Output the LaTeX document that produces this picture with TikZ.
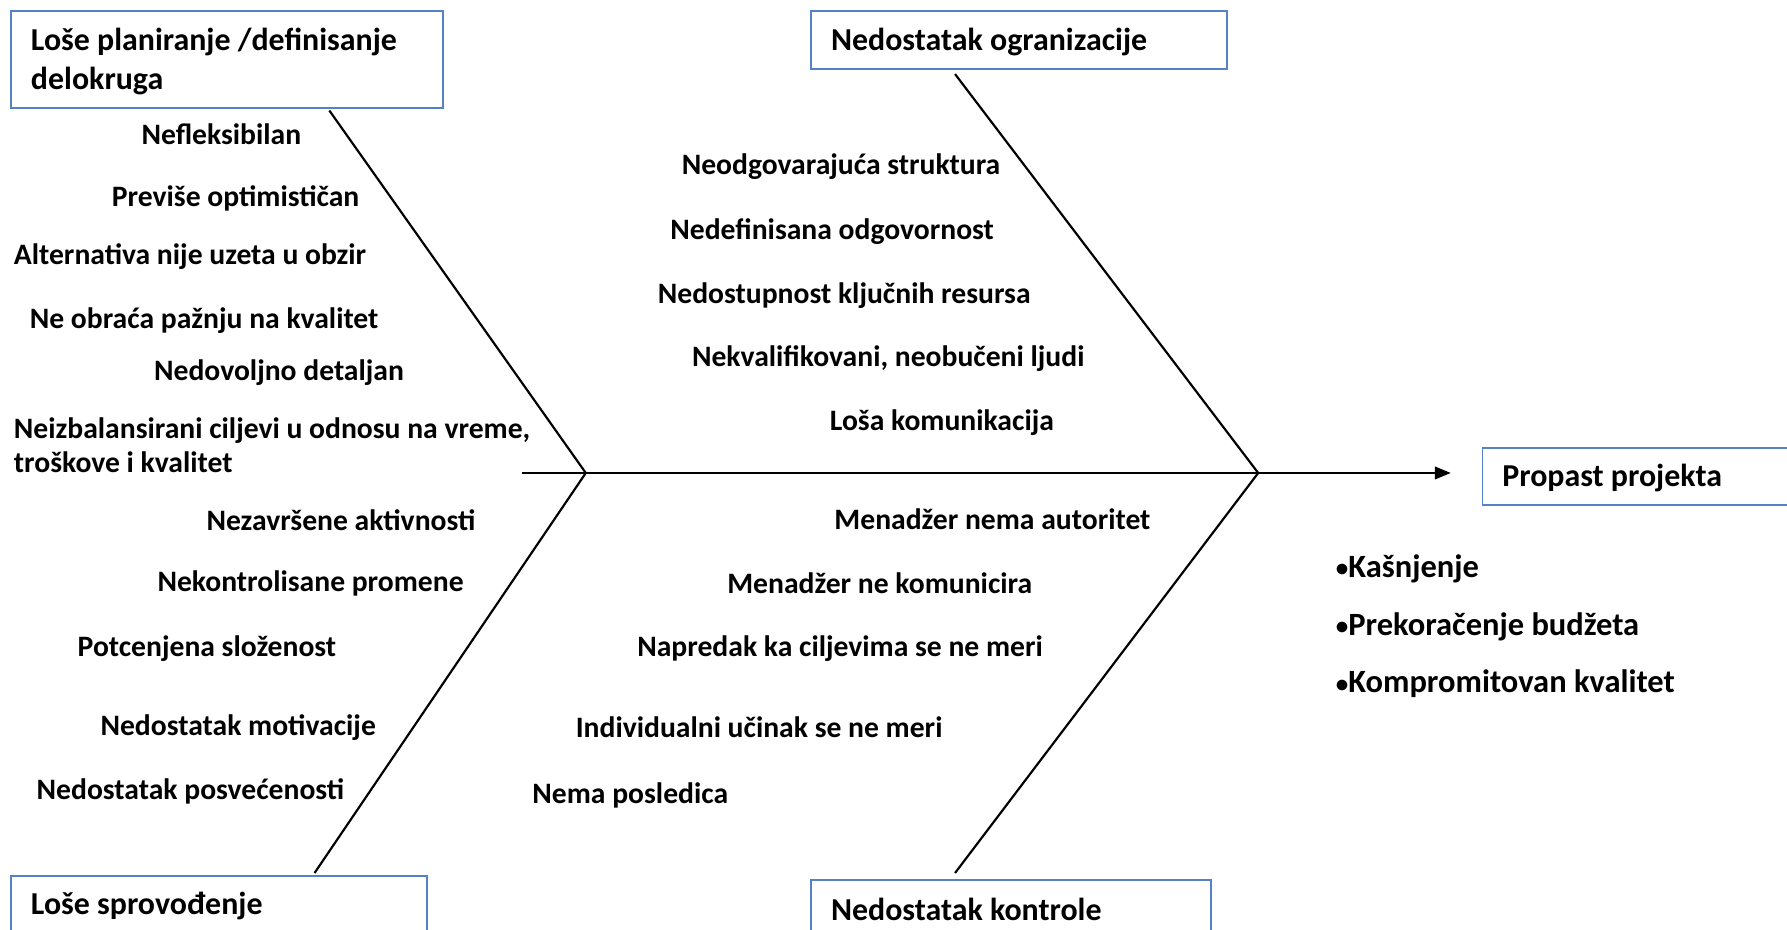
\documentclass[tikz,border=0pt]{standalone}
\usepackage{fontspec}
\setmainfont{Carlito}
\usetikzlibrary{arrows.meta}
\definecolor{boxblue}{RGB}{84,130,196}
\newcommand{\smallbullet}{{\fontsize{22}{22}\selectfont\raisebox{0.5pt}{•}}}
\begin{document}
\begin{tikzpicture}[x=1pt,y=-1pt,
  font=\fontsize{26}{31}\selectfont\bfseries,
  lbl/.style={anchor=west, inner sep=0pt},
  title/.style={anchor=west, inner sep=0pt, align=left,
    font=\fontsize{28}{34}\selectfont\bfseries},
  result/.style={anchor=west, inner sep=0pt,
    font=\fontsize{28.5}{34}\selectfont\bfseries},
  catbox/.style={draw=boxblue, line width=1.6pt, anchor=north west, inner sep=0pt},
  bone/.style={line width=1.9pt}]
\useasboundingbox (0,0) rectangle (1568,816);
\clip (0,0) rectangle (1568,816);

% category boxes and their titles
\node[catbox, minimum width=379pt, minimum height=85pt] (plan) at (9,9) {};
\node[title] (plant) at ([xshift=18pt,yshift=-1.5pt]plan.west) {Loše planiranje /definisanje\\delokruga};
\node[catbox, minimum width=365pt, minimum height=51pt] (org) at (711,9) {};
\node[title] (orgt) at ([xshift=18pt,yshift=-1.5pt]org.west) {Nedostatak ogranizacije};
\node[catbox, minimum width=300pt, minimum height=50pt] (fail) at (1300,392) {};
\node[title] (failt) at ([xshift=18pt,yshift=-1.5pt]fail.west) {Propast projekta};
\node[catbox, minimum width=365pt, minimum height=50pt] (exec) at (9,768) {};
\node[title] (exect) at ([xshift=18pt,yshift=-1.5pt]exec.west) {Loše sprovođenje};
\node[catbox, minimum width=351pt, minimum height=50pt] (ctrl) at (711,771) {};
\node[title] (ctrlt) at ([xshift=18pt,yshift=-1pt]ctrl.west) {Nedostatak kontrole};

% skeleton points
\coordinate (tail) at (458,415);
\coordinate (jl) at (514,415);
\coordinate (jr) at (1104,415);
\coordinate (tip) at (1273,415);
\coordinate (ul) at (289,97);
\coordinate (ll) at (276,766);
\coordinate (ur) at (838,65);
\coordinate (lr) at (838,766);

\draw[bone] (tail) -- (jr);
\draw[bone, -{Triangle[length=14pt,width=11pt]}] (jr) -- (tip);
\draw[bone] (ul) -- (jl) -- (ll);
\draw[bone] (ur) -- (jr) -- (lr);

% causes: planning
\node[lbl] (p1) at (124,118) {Nefleksibilan};
\node[lbl] (p2) at (98,174) {Previše optimističan};
\node[lbl] (p3) at (12,225) {Alternativa nije uzeta u obzir};
\node[lbl] (p4) at (26,281) {Ne obraća pažnju na kvalitet};
\node[lbl] (p5) at (135,327) {Nedovoljno detaljan};
\node[lbl, align=left, font=\fontsize{26}{30}\selectfont\bfseries] (p6) at (12,391)
  {Neizbalansirani ciljevi u odnosu na vreme,\\troškove i kvalitet};

% causes: execution
\node[lbl] (e1) at (181,456) {Nezavršene aktivnosti};
\node[lbl] (e2) at (138,512) {Nekontrolisane promene};
\node[lbl] (e3) at (68,569) {Potcenjena složenost};
\node[lbl] (e4) at (88,638) {Nedostatak motivacije};
\node[lbl] (e5) at (32,694) {Nedostatak posvećenosti};

% causes: organisation
\node[lbl] (o1) at (598,146) {Neodgovarajuća struktura};
\node[lbl] (o2) at (588,203) {Nedefinisana odgovornost};
\node[lbl] (o3) at (577,259) {Nedostupnost ključnih resursa};
\node[lbl] (o4) at (607,315) {Nekvalifikovani, neobučeni ljudi};
\node[lbl] (o5) at (728,371) {Loša komunikacija};

% causes: control
\node[lbl] (c1) at (732,456) {Menadžer nema autoritet};
\node[lbl] (c2) at (638,512) {Menadžer ne komunicira};
\node[lbl] (c3) at (559,569) {Napredak ka ciljevima se ne meri};
\node[lbl] (c4) at (505,638) {Individualni učinak se ne meri};
\node[lbl] (c5) at (467,698) {Nema posledica};

% consequences
\node[result] (r1) at (1172,499) {\smallbullet Kašnjenje};
\node[result] (r2) at (1172,550) {\smallbullet Prekoračenje budžeta};
\node[result] (r3) at (1172,600) {\smallbullet Kompromitovan kvalitet};
\end{tikzpicture}
\end{document}
